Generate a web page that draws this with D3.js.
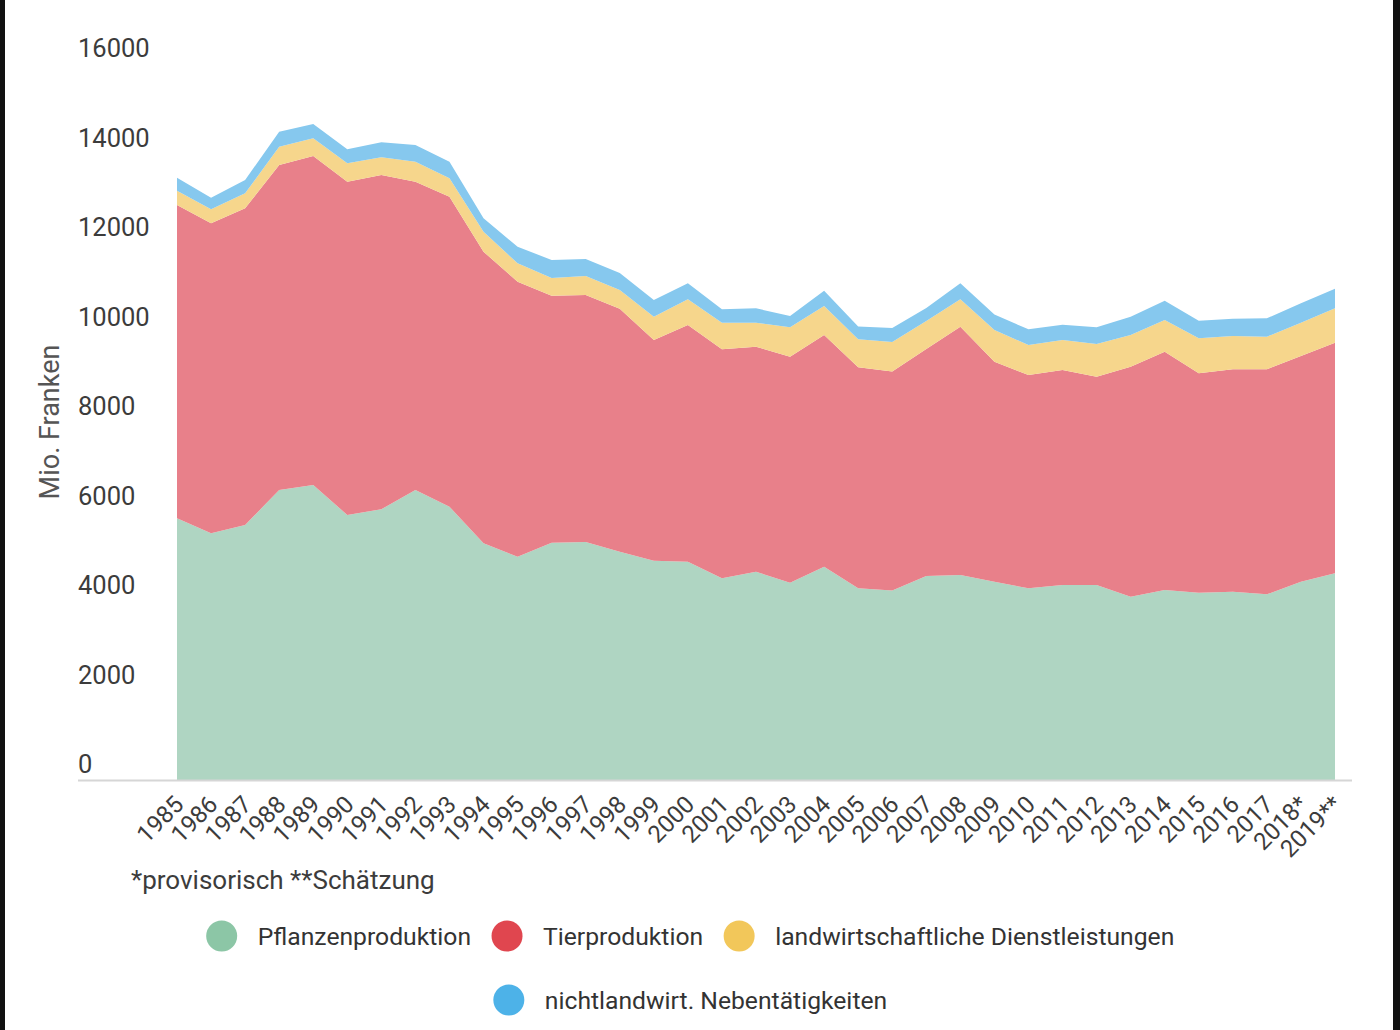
<!DOCTYPE html>
<html>
<head>
<meta charset="utf-8">
<script src="https://cdn.jsdelivr.net/npm/d3@7"></script>
<style>
  body { margin: 0; background: #fff; }
  #chart { width: 1400px; height: 1030px; position: relative; }
  svg text { font-family: Roboto, "Noto Sans", sans-serif; }
</style>
</head>
<body>
<div id="chart"></div>
<script>
// years on the x axis
const years = ["1985","1986","1987","1988","1989","1990","1991","1992","1993","1994",
  "1995","1996","1997","1998","1999","2000","2001","2002","2003","2004",
  "2005","2006","2007","2008","2009","2010","2011","2012","2013","2014",
  "2015","2016","2017","2018*","2019**"];

// Mio. Franken
const pflanzen = [5848,5513,5698,6480,6592,5922,6049,6480,6107,5289,
  4990,5300,5320,5102,4900,4878,4507,4655,4409,4766,
  4284,4235,4559,4581,4431,4284,4357,4357,4096,4246,
  4185,4208,4150,4431,4619];
const tier = [7001,6927,7077,7262,7352,7448,7470,6889,6927,6516,
  6145,5520,5520,5430,4932,5289,5117,5028,5050,5178,
  4938,4894,5073,5549,4916,4766,4804,4655,5140,5325,
  4903,4970,5028,5044,5153];
const dienst = [320,313,335,409,396,411,396,447,411,447,
  411,400,420,420,521,574,594,536,657,648,
  626,659,626,612,708,670,670,731,708,708,
  782,744,728,744,769];
const neben = [290,259,297,335,320,313,335,373,371,299,
  371,400,380,380,373,358,299,322,253,342,
  286,313,290,358,346,351,342,373,409,431,
  393,387,411,434,438];

const yTicks = [0,2000,4000,6000,8000,10000,12000,14000,16000];

const seriesNames = ["Pflanzenproduktion","Tierproduktion","landwirtschaftliche Dienstleistungen","nichtlandwirt. Nebentätigkeiten"];
const areaColors = ["#afd5c2","#e8808a","#f6d68c","#86c8ee"];
const dotColors = ["#8cc6a6","#e0464f","#f2c75a","#4db2e8"];

const width = 1400;
const height = 1030;

const svg = d3.select("#chart")
  .append("svg")
  .attr("width", width)
  .attr("height", height);

// screenshot edges
svg.append("rect").attr("x", 0).attr("y", 0).attr("width", 5).attr("height", height).attr("fill", "#111");
svg.append("rect").attr("x", 1393).attr("y", 0).attr("width", 7).attr("height", height).attr("fill", "#111");

const x = d3.scalePoint().domain(years).range([177, 1335]);
const y = d3.scaleLinear().domain([0, 16000]).range([780, 64]);

const rows = years.map((yr, i) => ({
  year: yr,
  s0: pflanzen[i],
  s1: tier[i],
  s2: dienst[i],
  s3: neben[i],
}));

const stack = d3.stack().keys(["s0","s1","s2","s3"]);
const layers = stack(rows);

const area = d3.area()
  .x((d) => x(d.data.year))
  .y0((d) => y(d[0]))
  .y1((d) => y(d[1]));

svg.append("g")
  .selectAll("path")
  .data(layers)
  .enter()
  .append("path")
  .attr("d", area)
  .attr("fill", (d, i) => areaColors[i]);

// baseline
svg.append("line")
  .attr("x1", 78).attr("x2", 1352)
  .attr("y1", y(0) + 0.5).attr("y2", y(0) + 0.5)
  .attr("stroke", "#d6d6d6")
  .attr("stroke-width", 2);

// y labels sit above their value
svg.append("g")
  .selectAll("text")
  .data(yTicks)
  .enter()
  .append("text")
  .attr("x", 78)
  .attr("y", (d) => y(d) - 7)
  .attr("font-size", 25.5)
  .attr("fill", "#3c3c3c")
  .text((d) => d);

svg.append("text")
  .attr("transform", "translate(59,422) rotate(-90)")
  .attr("text-anchor", "middle")
  .attr("font-size", 27)
  .attr("fill", "#555")
  .text("Mio. Franken");

// x labels, rotated
svg.append("g")
  .selectAll("text")
  .data(years)
  .enter()
  .append("text")
  .attr("transform", (d) => `translate(${x(d) + 8},806) rotate(-45)`)
  .attr("text-anchor", "end")
  .attr("font-size", 24)
  .attr("fill", "#3c3c3c")
  .text((d) => d);

svg.append("text")
  .attr("x", 131)
  .attr("y", 889)
  .attr("font-size", 26)
  .attr("fill", "#3c3c3c")
  .text("*provisorisch **Schätzung");

// legend
const legendRows = [[0, 1, 2], [3]];
const legendY = [936, 1000];

legendRows.forEach((row, r) => {
  const g = svg.append("g");
  let cx = 0;
  row.forEach((k) => {
    const item = g.append("g").attr("transform", `translate(${cx},0)`);
    item.append("circle")
      .attr("cx", 16).attr("cy", 0).attr("r", 15.5)
      .attr("fill", dotColors[k]);
    const t = item.append("text")
      .attr("x", 52).attr("y", 9)
      .attr("font-size", 24.7)
      .attr("fill", "#333")
      .text(seriesNames[k]);
    cx += 52 + t.node().getComputedTextLength() + 20;
  });
  const total = cx - 20;
  g.attr("transform", `translate(${690 - total / 2},${legendY[r]})`);
});
</script>
</body>
</html>
